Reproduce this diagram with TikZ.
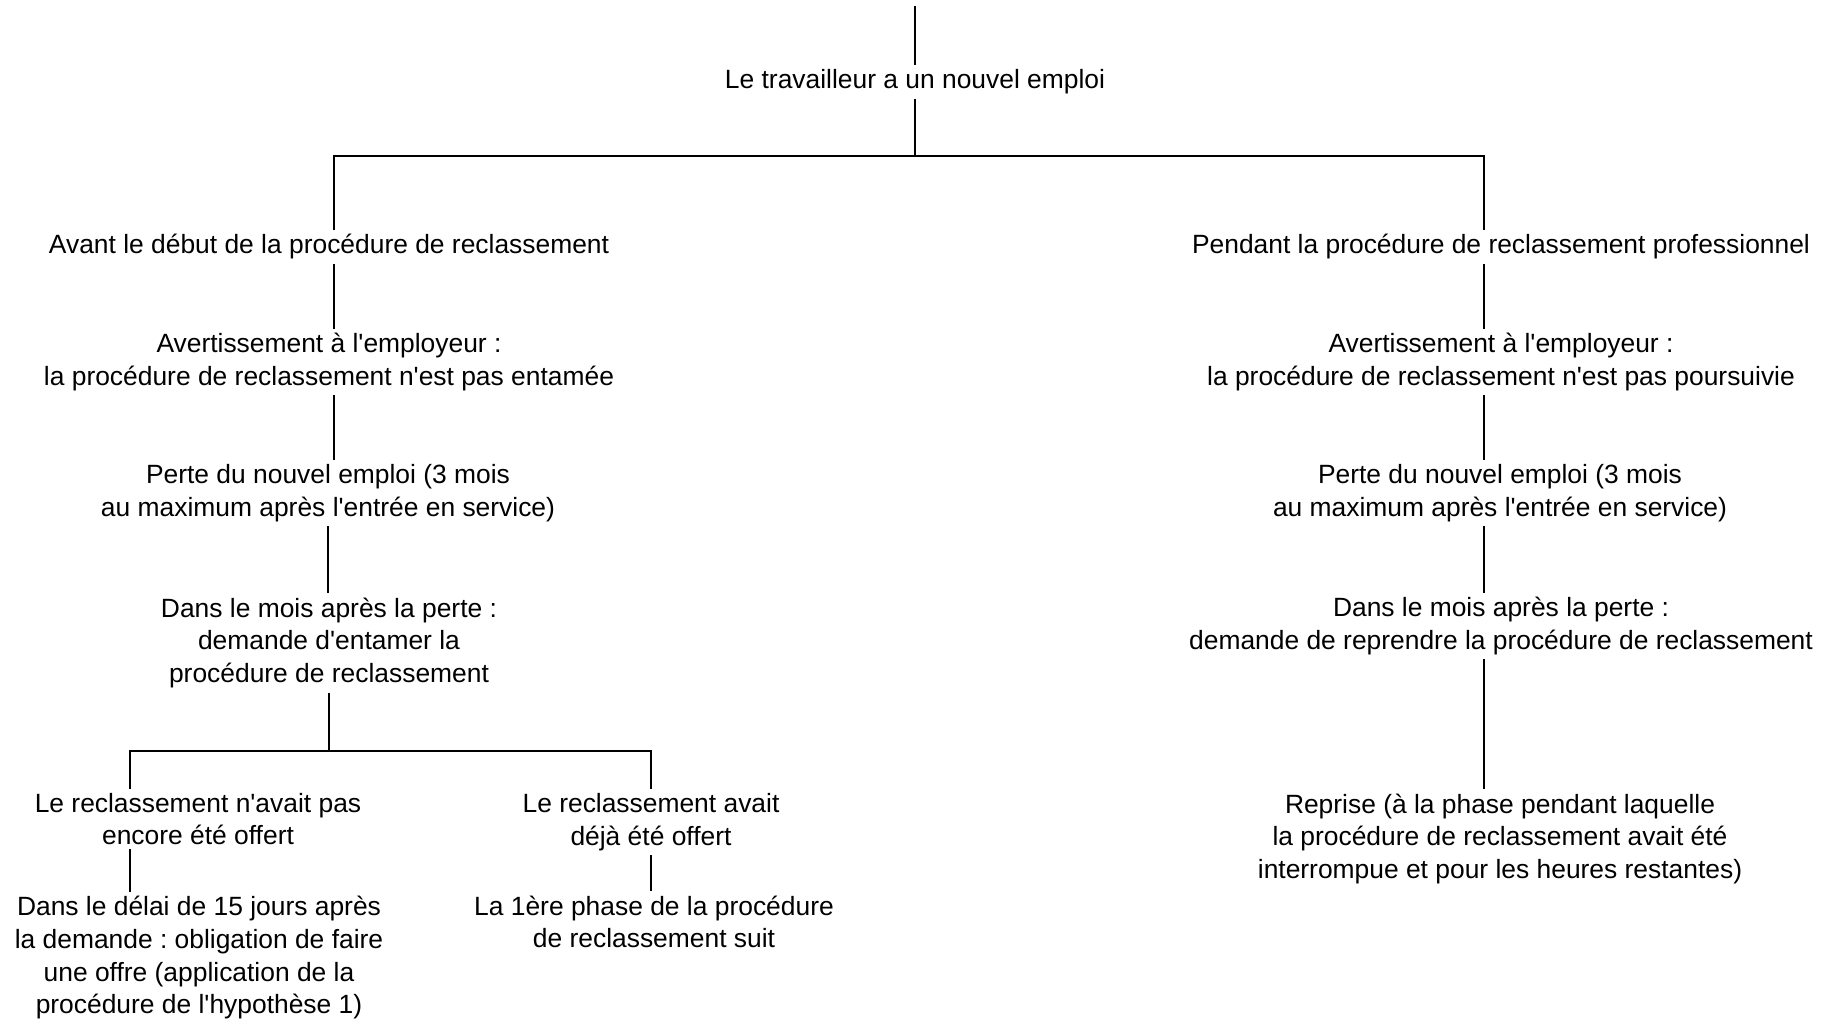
\documentclass[tikz,border=0pt]{standalone}
\usepackage{fontspec}
\setmainfont{Liberation Sans}[Ligatures=TeXOff]
\frenchspacing
\usetikzlibrary{calc}
\tikzset{
  >={latex},
  etape/.style={align=center,inner sep=2pt,font=\fontsize{13.2}{16.33}\selectfont},
  lien/.style={line width=0.7pt}
}

\begin{document}
\begin{tikzpicture}[x=0.5pt,y=-0.5pt]
    \useasboundingbox (0,0) rectangle (1829,1020);
    \node[etape] (emploi) at (915,82) {Le travailleur a un nouvel emploi};
    \node[etape] (avant) at (329,247) {Avant le début de la procédure de reclassement};
    \node[etape] (pendant) at (1501,247) {Pendant la procédure de reclassement professionnel};
    \node[etape] (avertA) at (329,362) {Avertissement à l'employeur :\\la procédure de reclassement n'est pas entamée};
    \node[etape] (avertP) at (1501,362) {Avertissement à l'employeur :\\la procédure de reclassement n'est pas poursuivie};
    \node[etape] (perteA) at (328,493) {Perte du nouvel emploi (3 mois\\au maximum après l'entrée en service)};
    \node[etape] (perteP) at (1500,493) {Perte du nouvel emploi (3 mois\\au maximum après l'entrée en service)};
    \node[etape] (moisA) at (329,643) {Dans le mois après la perte :\\demande d'entamer la\\procédure de reclassement};
    \node[etape] (moisP) at (1501,626) {Dans le mois après la perte :\\demande de reprendre la procédure de reclassement};
    \node[etape] (pasOffert) at (198,819) {Le reclassement n'avait pas\\encore été offert};
    \node[etape] (dejaOffert) at (651,822) {Le reclassement avait\\déjà été offert};
    \node[etape] (delai) at (199,958) {Dans le délai de 15 jours après\\la demande : obligation de faire\\une offre (application de la\\procédure de l'hypothèse 1)};
    \node[etape] (phase) at (654,922) {La 1ère phase de la procédure\\de reclassement suit};
    \node[etape] (reprise) at (1500,839) {Reprise (à la phase pendant laquelle\\la procédure de reclassement avait été\\interrompue et pour les heures restantes)};

    \coordinate (haut) at (915,6);
    \coordinate (nA) at (915,156);
    \coordinate (nB) at (329,751);
    \coordinate (xG) at (334,0);
    \coordinate (xD) at (1484,0);
    \coordinate (xS) at (130,0);

    \draw[lien] (haut) -- (emploi);
    \draw[lien] (emploi) -- (nA);
    \draw[lien] (avant.north -| xG) |- (nA) -| (pendant.north -| xD);
    \draw[lien] (avant.south -| xG) -- (avertA.north -| xG);
    \draw[lien] (avertA.south -| xG) -- (perteA.north -| xG);
    \draw[lien] (perteA.south) -- (perteA.south |- moisA.north);
    \draw[lien] (moisA) -- (nB);
    \draw[lien] (pasOffert.north -| xS) |- (nB) -| (dejaOffert.north);
    \draw[lien] (pasOffert.south -| xS) -- (delai.north -| xS);
    \draw[lien] (dejaOffert.south) -- (dejaOffert.south |- phase.north);
    \draw[lien] (pendant.south -| xD) -- (avertP.north -| xD);
    \draw[lien] (avertP.south -| xD) -- (perteP.north -| xD);
    \draw[lien] (perteP.south -| xD) -- (moisP.north -| xD);
    \draw[lien] (moisP.south -| xD) -- (reprise.north -| xD);
  \end{tikzpicture}
\end{document}
